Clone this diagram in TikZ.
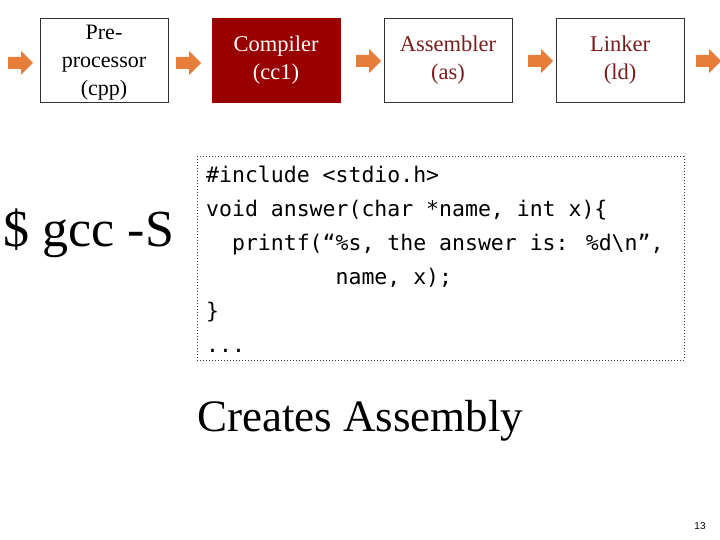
\documentclass[tikz,border=0pt]{standalone}
\usepackage{fontspec}
\setmainfont{Liberation Serif}
\newfontfamily\codefont{DejaVu Sans Mono}
\newfontfamily\numfont{Liberation Sans}
\definecolor{darkred}{HTML}{990000}
\definecolor{txtred}{HTML}{7A1C1C}
\definecolor{arr}{HTML}{E67E3A}
\newcommand\blockarrow[1]{\fill[arr] ($(#1)+(-12,-6)$) -- ++(13,0) -- ++(0,-6) -- ++(12,12) -- ++(-12,12) -- ++(0,-6) -- ++(-13,0) -- cycle;}
\usetikzlibrary{calc}
\begin{document}
\begin{tikzpicture}[x=1pt,y=-1pt,
  stage/.style={draw=black!80,line width=0.8pt,minimum width=128pt,minimum height=84pt,align=center,font=\fontsize{22.5}{28}\selectfont,inner sep=0pt}]
\useasboundingbox (0,0) rectangle (720,540);
\node[stage,text=black] (pre) at (104,60) {};
\node[align=center,font=\fontsize{22}{28}\selectfont,inner sep=0pt] (pretxt) at (104,63) {Pre-\\processor\\(cpp)};
\node[stage,fill=darkred,draw=darkred,text=white] (cc) at (276,60) {Compiler\\(cc1)};
\node[stage,text=txtred] (as) at (448,60) {Assembler\\(as)};
\node[stage,text=txtred] (ld) at (620,60) {Linker\\(ld)};
\coordinate (a0) at (20,63);
\coordinate (a1) at (188,63);
\coordinate (a2) at (368,61);
\coordinate (a3) at (540,61);
\coordinate (a4) at (708,61);
\blockarrow{a0}\blockarrow{a1}\blockarrow{a2}\blockarrow{a3}\blockarrow{a4}
\node[draw=black!80,dotted,line width=1pt,minimum width=487pt,minimum height=203pt] (code) at (440.5,258.5) {};
\node[anchor=north west,align=left,inner sep=0pt,font=\codefont\fontsize{21.5}{34}\selectfont] (ct) at (206,166) {\#include <stdio.h>\\void answer(char *name, int x)\{\\\ \ printf(“\%s, the answer is: \%d\textbackslash n”,\\\ \ \ \ \ \ \ \ \ \ name, x);\\\}\\...};
\node[font=\fontsize{52}{54}\selectfont,inner sep=0pt] (gcc) at (89,233) {\$ gcc -S};
\node[anchor=west,font=\fontsize{45}{48}\selectfont,inner sep=0pt] (ca) at (197,421) {Creates Assembly};
\node[font=\numfont\fontsize{10}{12}\selectfont] (pg) at (700,526) {13};
\end{tikzpicture}
\end{document}
